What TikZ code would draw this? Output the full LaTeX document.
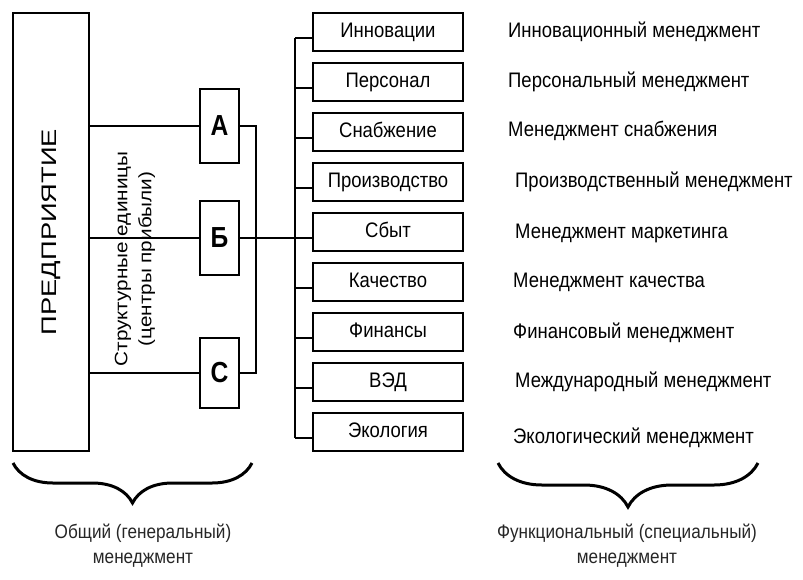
\documentclass[tikz,border=0pt]{standalone}
\usepackage{fontspec}
\setmainfont{Liberation Sans}[FakeStretch=0.88]
\newfontfamily\widefont{Liberation Sans}[FakeStretch=1.3]
\newfontfamily\unitfont{Liberation Sans}[FakeStretch=1.15]
\newfontfamily\letterfont{Liberation Sans}[FakeStretch=0.85]
\usepackage{tikz}
\usetikzlibrary{decorations.pathreplacing}

\tikzset{
	unitbox/.style={draw, line width=2pt, minimum width=39pt, minimum height=74pt, inner sep=0pt, font=\letterfont\bfseries\fontsize{29}{29}\selectfont},
	funcbox/.style={draw, line width=2pt, minimum width=150pt, minimum height=38pt, inner sep=0pt, text height=15pt, text depth=4pt, font=\fontsize{21}{21}\selectfont},
	mgmt/.style={anchor=west, inner sep=0pt, text height=15pt, text depth=4pt, font=\fontsize{21}{21}\selectfont},
	wire/.style={line width=1.8pt},
	bracelabel/.style={align=center, inner sep=0pt, text=black!85, font=\fontsize{19.5}{25}\selectfont},
	curly/.style={decorate, decoration={brace, mirror, amplitude=#1}, line width=3pt}
}

\begin{document}
\begin{tikzpicture}[x=1pt, y=-1pt]
				\useasboundingbox (0,0) rectangle (803,579);
				% Enterprise and structural units:
				\node[draw, line width=2pt, minimum width=76pt, minimum height=438pt, inner sep=0pt] (ent) at (51,232){};
				\node[rotate=90, inner sep=0pt, font=\widefont\fontsize{21}{21}\selectfont] (entname) at (ent.center){ПРЕДПРИЯТИЕ};
				\node[rotate=90, align=center, inner sep=0pt, font=\unitfont\fontsize{18}{24}\selectfont] (units) at (135,259){Структурные единицы\\(центры прибыли)};
				\node[unitbox] (A) at (219.5,126){А};
				\node[unitbox] (B) at (219.5,238){Б};
				\node[unitbox, minimum height=70pt] (C) at (219.5,373){С};
				% Functional areas:
				\foreach \name [count=\i] in {Инновации, Персонал, Снабжение, Производство, Сбыт, Качество, Финансы, ВЭД, Экология}
					\node[funcbox] (f\i) at (388,-18+50*\i){\name};
				\foreach \txt/\dx/\dy [count=\i] in {Инновационный менеджмент/508/0, Персональный менеджмент/508/0, Менеджмент снабжения/508/-1, Производственный менеджмент/515/0, Менеджмент маркетинга/515/1, Менеджмент качества/513/0, Финансовый менеджмент/513/1, Международный менеджмент/515/0, Экологический менеджмент/513/6}
					\node[mgmt] (m\i) at (\dx,-18+50*\i+\dy){\txt};
				% Wires:
				\coordinate (ring) at (256,0);
				\coordinate (bus) at (295,0);
				\draw[wire] (A.west -| ent.east) -- (A.west);
				\draw[wire] (B.west -| ent.east) -- (B.west);
				\draw[wire] (C.west -| ent.east) -- (C.west);
				\draw[wire] (A.east) -- (A.east -| ring) |- (C.east);
				\draw[wire] (B.east) -- ([yshift=-6pt]f5.west);
				\foreach \i in {1,...,9}
					\draw[wire] ([yshift=-6pt]f\i.west -| bus) -- ([yshift=-6pt]f\i.west);
				\draw[wire] ([yshift=-6pt]f1.west -| bus) -- ([yshift=-6pt]f9.west -| bus);
				% Braces:
				\coordinate (gl) at (13,463);
				\coordinate (gr) at (252,463);
				\coordinate (fl) at (498,463);
				\coordinate (fr) at (758,463);
				\draw[curly=40pt] (gl) -- (gr);
				\draw[curly=44pt] (fl) -- (fr);
				\node[bracelabel] (gen) at (143,546){Общий (генеральный)\\менеджмент};
				\node[bracelabel] (fun) at (627,546){Функциональный (специальный)\\менеджмент};
			\end{tikzpicture}
\end{document}
